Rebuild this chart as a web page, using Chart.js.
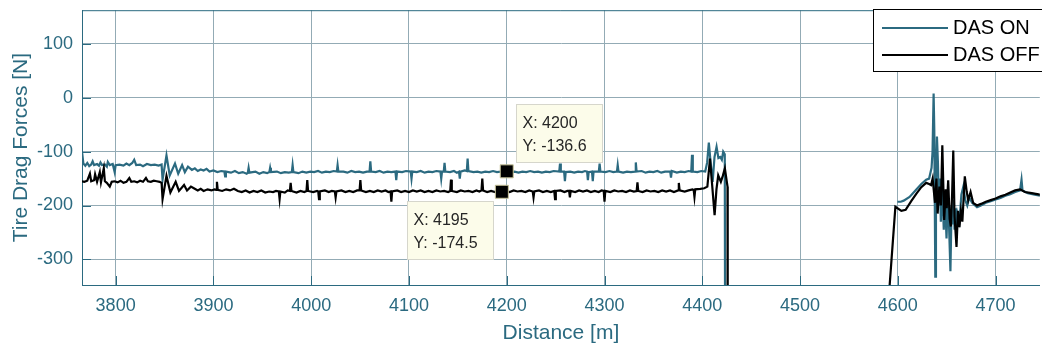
<!DOCTYPE html>
<html>
<head>
<meta charset="utf-8">
<script src="https://cdn.jsdelivr.net/npm/chart.js@4"></script>
<style>
  html, body { margin: 0; background: #fff; overflow: hidden; width: 1042px; height: 348px; }
  canvas { display: block; }
</style>
</head>
<body>
<canvas id="chart" width="1050" height="348"></canvas>
<script>
// Tick labels
const xTicks = [3800, 3900, 4000, 4100, 4200, 4300, 4400, 4500, 4600, 4700];
const yTicks = [-300, -200, -100, 0, 100];

// DAS ON series (distance / force)
const onX = [3765.6, 3767, 3769, 3771, 3773, 3775, 3776.5, 3778, 3781, 3783, 3784.5, 3786, 3789, 3791, 3792, 3794, 3797, 3799, 3800, 3804, 3808, 3811, 3814, 3817, 3819, 3821, 3825, 3828, 3832, 3836, 3840, 3844, 3847,
  3848, 3852, 3855.3, 3860.7, 3864, 3868, 3870.8, 3874, 3878, 3881, 3884, 3887, 3890, 3893, 3896, 3900, 3904, 3908, 3911.2, 3912, 3912.8, 3918, 3922, 3926, 3930, 3934, 3935.2, 3936, 3936.8, 3943, 3947, 3951, 3955, 3957.2, 3958, 3958.8, 3965, 3969, 3973, 3977, 3980.2, 3981, 3981.8, 3987, 3991, 3995, 3999,
  4003, 4007, 4011, 4015, 4019, 4023, 4026.2, 4027, 4027.8, 4033, 4037, 4041, 4045, 4049, 4053, 4057, 4059.7, 4060.5, 4061.3, 4066, 4070, 4074, 4078, 4082, 4086.2, 4087, 4087.8, 4093, 4097, 4101.8, 4102.6, 4103.4, 4108, 4112, 4116, 4120, 4124, 4128, 4132.2, 4133, 4133.8, 4135.6, 4136.4, 4137.2, 4142, 4146, 4149, 4151.2, 4152, 4152.8, 4157, 4159.2, 4160, 4160.8, 4166, 4170, 4174, 4178, 4182, 4186, 4190, 4194, 4198, 4200,
  4204, 4208, 4212, 4216, 4220, 4224, 4228, 4232, 4236, 4240, 4244, 4248, 4253.7, 4254.5, 4255.3, 4258.7, 4259.5, 4260.3, 4265, 4269, 4273, 4277, 4280, 4282.2, 4283, 4283.8, 4287.2, 4288, 4288.8, 4294.2, 4295, 4295.8, 4301, 4305, 4309, 4312.7, 4313.5, 4314.3, 4319, 4323, 4327, 4331.2, 4332, 4332.8, 4338, 4342, 4346, 4350, 4354, 4358, 4362, 4367.2, 4368, 4368.8, 4374, 4378, 4382, 4386, 4388.7, 4389.5, 4390.3, 4395, 4399, 4403,
  4405, 4406.7, 4408.5, 4410.6, 4412.5, 4414.6, 4416.5, 4418.4, 4420, 4421.4, 4423, 4423.5, 4500,
  4599.6, 4603, 4606, 4612, 4618, 4624, 4629, 4632, 4634.5, 4635.5, 4636.6, 4637.3, 4638.3, 4639, 4640, 4641, 4642, 4643, 4644, 4645, 4646, 4647, 4648, 4649.8, 4651, 4652, 4653.8, 4655, 4656, 4657, 4658, 4659, 4660, 4661, 4663, 4665, 4667, 4669, 4671, 4673, 4676, 4681,
  4685, 4690, 4695, 4700, 4705, 4710, 4715, 4720, 4725, 4726.5, 4727.5, 4733, 4740, 4746];
const onY = [-100, -122, -126, -121, -127, -124, -118, -125, -123, -126, -120, -125, -124, -128, -119, -125, -123, -138, -125, -124, -126, -122, -125, -121, -115, -125, -124, -127, -123, -125, -124, -126, -124,
  -152, -107, -144, -122, -141, -125, -138, -128, -134, -131, -136, -133, -135, -132, -137, -135, -138, -136, -137, -146, -137, -139, -136, -140, -138, -141, -139, -130, -139, -137, -141, -138, -140, -138, -130, -138, -137, -140, -138, -139, -138, -125, -138, -140, -137, -139, -137,
  -138, -136, -139, -137, -138, -136, -137, -125, -137, -137, -139, -136, -138, -137, -139, -137, -137, -118, -137, -138, -136, -139, -137, -138, -137, -153, -137, -138, -136, -137, -150, -137, -138, -136, -139, -137, -138, -136, -137, -150, -137, -137, -121, -137, -138, -136, -139, -137, -150, -137, -135, -136, -113, -136, -138, -137, -139, -137, -138, -136, -138, -137, -137, -136.6,
  -138, -137, -139, -137, -138, -136, -138, -137, -139, -137, -138, -136, -137, -122, -137, -137, -155, -138, -137, -139, -137, -138, -136, -137, -153, -138, -137, -155, -137, -137, -122, -137, -138, -136, -138, -137, -125, -137, -139, -137, -138, -137, -120, -137, -136, -139, -137, -138, -136, -139, -137, -137, -148, -136, -139, -137, -138, -136, -137, -106, -137, -138, -136, -137,
  -120, -83, -120, -156, -110, -91, -112, -110, -115, -100, -105, -600, null,
  -193, -193, -191, -184, -172, -160, -152, -150, -130, -100, 8, -60, -332, -150, -72, -120, -200, -150, -230, -170, -195, -245, -175, -261, -190, -215, -322, -200, -235, -190, -245, -205, -250, -215, -230, -180, -165, -190, -200, -185, -195, -203,
  -200, -195, -192, -189, -186, -182, -179, -175, -172, -152, -172, -177, -180, -182];

// DAS OFF series (distance / force)
const offX = [3765.6, 3768, 3771, 3773.7, 3775, 3778, 3779, 3781, 3783.8, 3785, 3787.9, 3789, 3791, 3794, 3796, 3799, 3802, 3805, 3808, 3811, 3814, 3816, 3819, 3822, 3825, 3828, 3831, 3833, 3836, 3839, 3842, 3845, 3847,
  3848, 3852, 3856, 3861.4, 3864.8, 3870, 3873, 3877, 3880, 3884, 3887, 3890, 3894, 3898, 3901, 3902.8, 3903.6, 3904.4, 3909, 3913, 3917, 3921, 3925, 3929, 3933, 3937, 3941, 3945, 3949, 3953, 3957, 3961, 3964, 3966.9, 3967.7, 3968.5, 3973, 3976, 3978.2, 3979, 3979.8, 3985, 3989, 3993, 3995.2, 3996, 3996.8,
  4002, 4006, 4007.2, 4008, 4008.8, 4014, 4018, 4021, 4024.2, 4025, 4025.8, 4031, 4035, 4039, 4043, 4047, 4049.5, 4050.3, 4051.1, 4056, 4060, 4064, 4068, 4072, 4076, 4079, 4081.2, 4082, 4082.8, 4088, 4092, 4096, 4100, 4104, 4108, 4112, 4116, 4120, 4124, 4128, 4132, 4136, 4140, 4142.2, 4143, 4143.8, 4149, 4153, 4157, 4161, 4165, 4169, 4172, 4174.2, 4175, 4175.8, 4180, 4184, 4188, 4191, 4195, 4199,
  4203, 4207, 4211, 4215, 4219, 4223, 4226.6, 4227.4, 4228.2, 4233, 4237, 4241, 4245, 4248.6, 4249.4, 4250.2, 4255, 4259, 4262, 4263.8, 4264.6, 4265.4, 4270, 4274, 4278, 4282, 4286, 4290, 4294, 4297, 4299.2, 4300, 4300.8, 4306, 4310, 4314, 4318, 4322, 4326, 4330, 4332.9, 4333.7, 4334.5, 4339, 4343, 4347, 4351, 4355, 4359, 4363, 4367, 4371, 4375.2, 4376, 4376.8, 4382, 4386, 4390, 4391.2, 4392, 4392.8, 4398, 4402,
  4405.2, 4407.9, 4410, 4412.6, 4414.5, 4416.3, 4419, 4421, 4423.1, 4425.8, 4426, 4500,
  4585.5, 4597.5, 4603.6, 4608, 4613.7, 4619, 4624, 4629, 4632, 4634, 4635.6, 4638, 4639.5, 4640.7, 4642.5, 4644, 4645.5, 4647.4, 4649, 4650, 4651.5, 4653, 4654.2, 4655.5, 4656.7, 4658, 4660, 4661.5, 4663, 4664.5, 4666, 4668.5, 4670.5, 4672, 4674.4, 4677, 4681,
  4685, 4690, 4695, 4700, 4705, 4710, 4715, 4720, 4725, 4730, 4737, 4746];
const offY = [-155, -156, -154, -141, -155, -153, -142, -156, -138, -157, -131, -155, -158, -165, -156, -155, -157, -154, -158, -156, -149, -156, -155, -157, -154, -156, -149, -155, -156, -154, -155, -156, -158,
  -188, -145, -176, -156, -173, -162, -172, -165, -168, -172, -169, -173, -170, -172, -170, -171, -156, -171, -173, -170, -172, -169, -173, -175, -172, -176, -173, -175, -172, -176, -174, -175, -173, -174, -188, -174, -176, -172, -173, -158, -173, -176, -173, -175, -173, -153, -173,
  -175, -173, -174, -188, -174, -172, -175, -173, -174, -185, -174, -172, -175, -173, -175, -172, -172, -153, -172, -175, -173, -175, -172, -174, -172, -175, -174, -193, -174, -172, -175, -173, -175, -172, -174, -172, -175, -173, -175, -172, -174, -173, -175, -173, -152, -173, -175, -172, -174, -173, -175, -172, -174, -172, -150, -172, -175, -173, -175, -172, -174.5, -173,
  -175, -172, -174, -173, -175, -172, -174, -185, -174, -172, -175, -173, -175, -173, -188, -173, -172, -175, -173, -173, -185, -173, -175, -172, -174, -172, -175, -173, -175, -172, -173, -193, -173, -175, -172, -174, -173, -175, -172, -174, -173, -157, -173, -175, -172, -174, -173, -175, -172, -174, -172, -175, -172, -158, -172, -174, -172, -170, -171, -184, -170, -169, -168,
  -165, -113, -160, -218, -170, -144, -156, -145, -131, -165, -600, null,
  -500, -202.5, -210, -208, -192, -178, -166, -158, -160, -162, -150, -195, -150, -215, -165, -200, -88, -227, -170, -205, -153, -225, -239, -180, -98, -220, -277, -210, -240, -210, -230, -146, -175, -190, -175, -195, -200,
  -197, -193, -190, -187, -183, -180, -176, -172, -170, -175, -177, -180];

// Data tips
const tipX = [4200, 4195];
const tipY = [-136.6, -174.5];

const teal = '#2b6a80';
const gridColor = '#93abb5';
const fontFamily = '"Liberation Sans", Arial, sans-serif';

function toPoints(xs, ys) {
    return xs.map((x, i) => ({ x: x, y: ys[i] }));
}

// Frame: top border and inward tick marks
const framePlugin = {
    id: 'frame',
    afterDatasetsDraw(chart) {
        const ctx = chart.ctx;
        const a = chart.chartArea;
        const xs = chart.scales.x, ys = chart.scales.y;
        ctx.save();
        ctx.strokeStyle = teal;
        ctx.lineWidth = 1;
        ctx.beginPath();
        ctx.moveTo(a.left, a.top + 0.5);
        ctx.lineTo(a.right, a.top + 0.5);
        xTicks.forEach(v => {
            const p = Math.round(xs.getPixelForValue(v)) + 0.5;
            ctx.moveTo(p, a.bottom);
            ctx.lineTo(p, a.bottom - 9);
        });
        yTicks.forEach(v => {
            const p = Math.round(ys.getPixelForValue(v)) + 0.5;
            ctx.moveTo(a.left, p);
            ctx.lineTo(a.left + 9, p);
        });
        ctx.stroke();
        ctx.restore();
    }
};

// Data tip boxes and the legend
const overlayPlugin = {
    id: 'overlay',
    afterDraw(chart) {
        const ctx = chart.ctx;
        const xs = chart.scales.x, ys = chart.scales.y;
        ctx.save();

        const p1x = xs.getPixelForValue(tipX[0]), p1y = ys.getPixelForValue(tipY[0]);
        const p2x = xs.getPixelForValue(tipX[1]), p2y = ys.getPixelForValue(tipY[1]);
        const boxes = [
            { left: p1x + 9, top: p1y - 67, lines: ['X: ' + tipX[0], 'Y: ' + tipY[0]] },
            { left: p2x - 95, top: p2y + 9, lines: ['X: ' + tipX[1], 'Y: ' + tipY[1]] }
        ];
        boxes.forEach(b => {
            const l = Math.round(b.left) + 0.5, t = Math.round(b.top) + 0.5;
            ctx.fillStyle = '#fcfcea';
            ctx.fillRect(l, t, 86, 58);
            ctx.strokeStyle = '#d6d6cc';
            ctx.lineWidth = 1;
            ctx.strokeRect(l, t, 86, 58);
            ctx.fillStyle = '#262626';
            ctx.font = '16px ' + fontFamily;
            ctx.textBaseline = 'middle';
            ctx.textAlign = 'left';
            ctx.fillText(b.lines[0], l + 6, t + 19);
            ctx.fillText(b.lines[1], l + 6, t + 42);
        });

        // legend
        ctx.fillStyle = '#fff';
        ctx.fillRect(873.5, 9.5, 180, 62);
        ctx.strokeStyle = '#000';
        ctx.lineWidth = 1;
        ctx.strokeRect(873.5, 9.5, 180, 62);
        ctx.lineWidth = 2;
        ctx.strokeStyle = teal;
        ctx.beginPath();
        ctx.moveTo(882, 28);
        ctx.lineTo(948, 28);
        ctx.stroke();
        ctx.strokeStyle = '#000';
        ctx.beginPath();
        ctx.moveTo(882, 55);
        ctx.lineTo(948, 55);
        ctx.stroke();
        ctx.fillStyle = '#000';
        ctx.font = '20px ' + fontFamily;
        ctx.textBaseline = 'middle';
        ctx.fillText('DAS ON', 953, 28);
        ctx.fillText('DAS OFF', 953, 55);
        ctx.restore();
    }
};

new Chart(document.getElementById('chart').getContext('2d'), {
    type: 'line',
    data: {
        datasets: [
            {
                label: 'DAS ON',
                data: toPoints(onX, onY),
                borderColor: teal,
                borderWidth: 2.2,
                pointRadius: 0,
                tension: 0,
                spanGaps: false,
                order: 2
            },
            {
                label: 'DAS OFF',
                data: toPoints(offX, offY),
                borderColor: '#000',
                borderWidth: 2.2,
                pointRadius: 0,
                tension: 0,
                spanGaps: false,
                order: 1
            },
            {
                label: 'tips',
                type: 'scatter',
                data: toPoints(tipX, tipY),
                pointStyle: 'rect',
                pointRadius: 9.2,
                backgroundColor: '#000',
                borderColor: '#c9c59a',
                borderWidth: 1,
                order: 0
            }
        ]
    },
    options: {
        responsive: false,
        animation: false,
        devicePixelRatio: 1,
        layout: { padding: { top: 9, right: 0, left: 0, bottom: 0 } },
        plugins: {
            legend: { display: false },
            tooltip: { enabled: false }
        },
        scales: {
            x: {
                type: 'linear',
                min: 3765.6,
                max: 4745.2,
                afterBuildTicks: scale => { scale.ticks = xTicks.map(v => ({ value: v })); },
                afterFit: scale => {
                    scale.height = 63;
                    scale.paddingLeft = 0;
                    scale.paddingRight = 0;
                },
                grid: { color: gridColor, drawTicks: false },
                border: { color: teal },
                ticks: {
                    color: teal,
                    padding: 10,
                    maxRotation: 0,
                    callback: v => String(v),
                    font: { family: fontFamily, size: 18 }
                },
                title: {
                    display: true,
                    text: 'Distance [m]',
                    color: teal,
                    font: { family: fontFamily, size: 21 },
                    padding: { top: 0, bottom: 2.4 }
                }
            },
            y: {
                min: -347.6,
                max: 162.6,
                afterBuildTicks: scale => { scale.ticks = yTicks.map(v => ({ value: v })); },
                afterFit: scale => {
                    scale.width = 82;
                    scale.paddingTop = 0;
                    scale.paddingBottom = 0;
                },
                grid: { color: gridColor, drawTicks: false },
                border: { color: teal },
                ticks: {
                    color: teal,
                    padding: 9,
                    callback: v => String(v),
                    font: { family: fontFamily, size: 18 }
                },
                title: {
                    display: true,
                    text: 'Tire Drag Forces [N]',
                    color: teal,
                    font: { family: fontFamily, size: 21 },
                    padding: { top: 8.4, bottom: 0 }
                }
            }
        }
    },
    plugins: [framePlugin, overlayPlugin]
});
</script>
</body>
</html>
